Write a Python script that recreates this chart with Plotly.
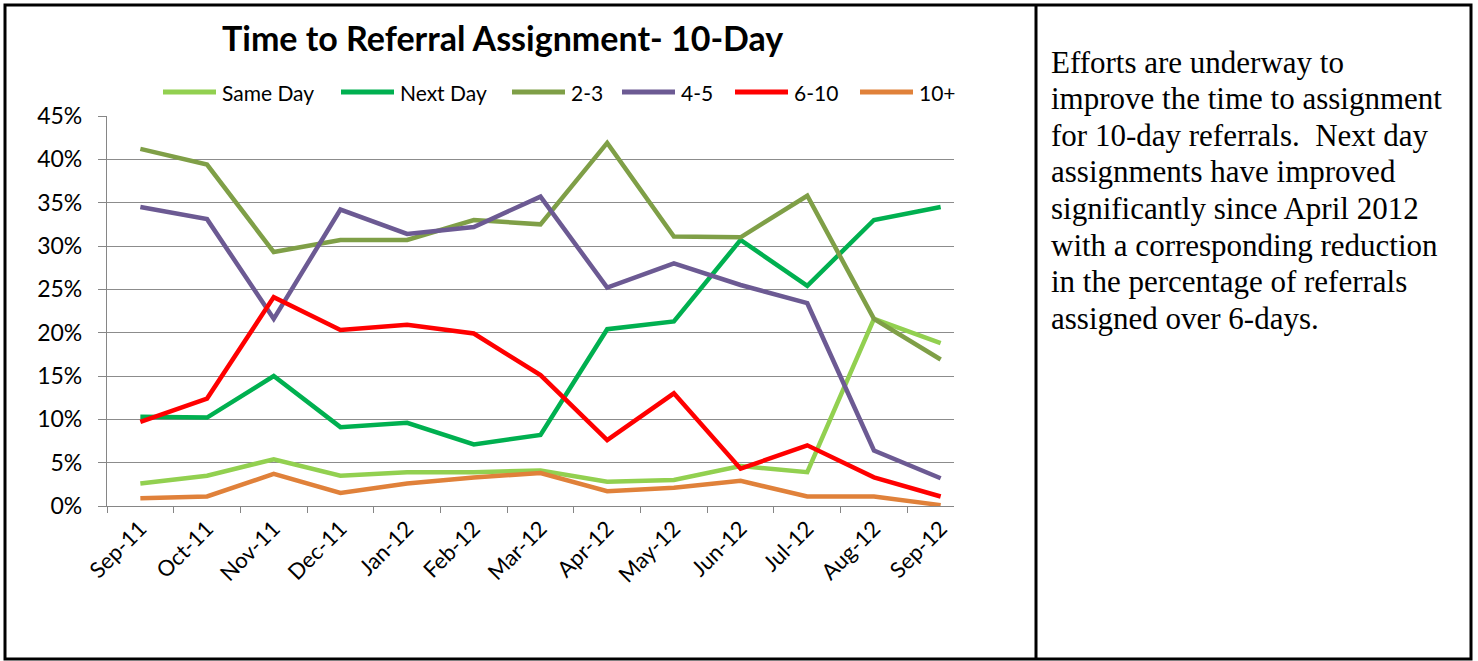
import plotly.graph_objects as go

# Monthly share of 10-day referrals by time to assignment
months = ["Sep-11", "Oct-11", "Nov-11", "Dec-11", "Jan-12", "Feb-12", "Mar-12",
          "Apr-12", "May-12", "Jun-12", "Jul-12", "Aug-12", "Sep-12"]

same_day = [0.026, 0.035, 0.054, 0.035, 0.039, 0.039, 0.041, 0.028, 0.030, 0.046, 0.039, 0.216, 0.188]
next_day = [0.103, 0.102, 0.150, 0.091, 0.096, 0.071, 0.082, 0.204, 0.213, 0.307, 0.254, 0.330, 0.345]
days_2_3 = [0.412, 0.394, 0.293, 0.307, 0.307, 0.330, 0.325, 0.419, 0.311, 0.310, 0.358, 0.216, 0.169]
days_4_5 = [0.345, 0.331, 0.216, 0.342, 0.314, 0.322, 0.357, 0.252, 0.280, 0.255, 0.234, 0.064, 0.032]
days_6_10 = [0.097, 0.124, 0.241, 0.203, 0.209, 0.199, 0.151, 0.076, 0.130, 0.043, 0.070, 0.033, 0.011]
days_10_plus = [0.009, 0.011, 0.037, 0.015, 0.026, 0.033, 0.038, 0.017, 0.021, 0.029, 0.011, 0.011, 0.001]

series_names = ["Same Day", "Next Day", "2-3", "4-5", "6-10", "10+"]
series_values = [same_day, next_day, days_2_3, days_4_5, days_6_10, days_10_plus]
series_colors = ["#92D050", "#00B050", "#7F9F47", "#6C5A93", "#FF0000", "#E0813A"]

# y-axis ticks
y_ticks = [i * 0.05 for i in range(10)]
y_tick_labels = [f"{i * 5}%" for i in range(10)]

# commentary lines for the right-hand cell
note_lines = [
    "Efforts are underway to",
    "improve the time to assignment",
    "for 10-day referrals.  Next day",
    "assignments have improved",
    "significantly since April 2012",
    "with a corresponding reduction",
    "in the percentage of referrals",
    "assigned over 6-days.",
]

W, H = 1478, 661
L, R, T, B = 107, 524, 116, 155
PW, PH = W - L - R, H - T - B


def px(x):
    return (x - L) / PW


def py(y):
    return (H - B - y) / PH


fig = go.Figure()
for name, vals, col in zip(series_names, series_values, series_colors):
    fig.add_trace(go.Scatter(x=months, y=vals, name=name, mode="lines",
                             line=dict(color=col, width=4.5), showlegend=False))

shapes = []
annotations = []

# legend drawn as swatch + label pairs along the top of the chart
legend_swatch_x = [163, 341, 512, 622, 735, 860]
legend_y = 92
for name, col, sx in zip(series_names, series_colors, legend_swatch_x):
    shapes.append(dict(type="line", xref="paper", yref="paper",
                       x0=px(sx), x1=px(sx + 53), y0=py(legend_y), y1=py(legend_y),
                       line=dict(color=col, width=5)))
    annotations.append(dict(xref="paper", yref="paper", x=px(sx + 57), y=py(legend_y),
                            xanchor="left", yanchor="middle", showarrow=False,
                            text=name, font=dict(family="Lato", size=21, color="#000")))

# title
annotations.append(dict(xref="paper", yref="paper", x=px(502), y=py(37),
                        xanchor="center", yanchor="middle", showarrow=False,
                        text="<b>Time to Referral Assignment- 10-Day</b>",
                        font=dict(family="Lato", size=34, color="#000")))

# commentary, one annotation per line for tight leading
first_baseline, leading = 72, 36.6
for i, line in enumerate(note_lines):
    annotations.append(dict(xref="paper", yref="paper", x=px(1049),
                            y=py(first_baseline + i * leading - 10),
                            xanchor="left", yanchor="middle", align="left", showarrow=False,
                            text=line,
                            font=dict(family="Liberation Serif", size=31, color="#000")))

# table borders
border = dict(color="#000", width=3)
shapes.append(dict(type="rect", xref="paper", yref="paper",
                   x0=px(5), x1=px(1471), y0=py(5), y1=py(659), line=border))
shapes.append(dict(type="line", xref="paper", yref="paper",
                   x0=px(1036), x1=px(1036), y0=py(5), y1=py(659), line=border))

fig.update_layout(
    width=W, height=H,
    margin=dict(l=L, r=R, t=T, b=B),
    paper_bgcolor="white", plot_bgcolor="white",
    shapes=shapes, annotations=annotations,
    xaxis=dict(type="category", range=[-0.5, 12.2], tickson="boundaries",
               ticks="outside", ticklen=6, tickcolor="#868686", tickwidth=1.3,
               showline=True, linecolor="#868686", linewidth=1.3, showgrid=False,
               tickangle=-45, tickfont=dict(family="Lato", size=22, color="#000"),
               zeroline=False),
    yaxis=dict(range=[0, 0.45], tickvals=y_ticks, ticktext=y_tick_labels,
               ticks="outside", ticklen=8, tickcolor="#868686", tickwidth=1.3,
               showline=True, linecolor="#868686", linewidth=1.3,
               showgrid=True, gridcolor="#8C8C8C", gridwidth=1.3,
               zeroline=False, ticklabelstandoff=11,
               tickfont=dict(family="Lato", size=23, color="#000")),
)

fig.write_html("out.html")
